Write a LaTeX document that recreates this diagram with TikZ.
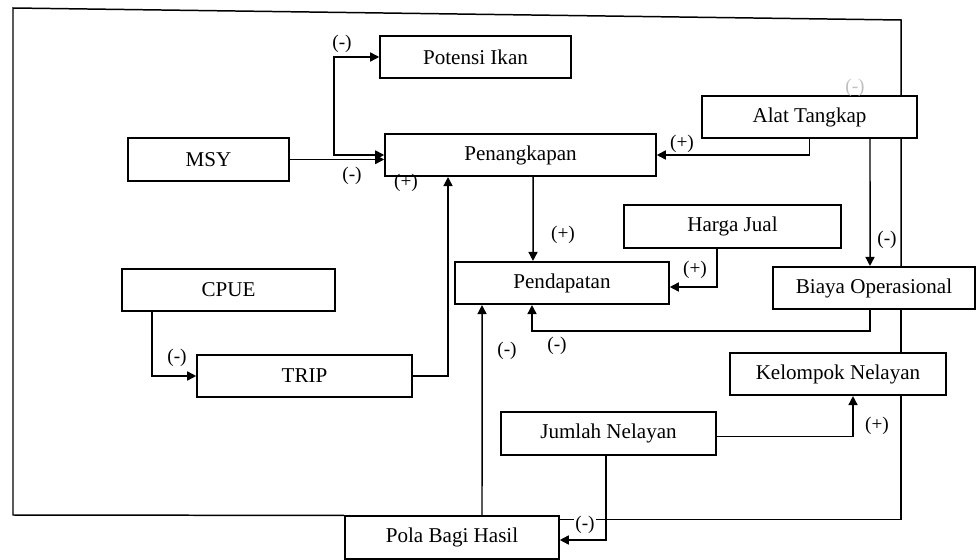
\documentclass[tikz,border=0pt]{standalone}
\usepackage{fontspec}
\setmainfont{Liberation Serif}
\usetikzlibrary{arrows.meta,backgrounds}

\begin{document}
\begin{tikzpicture}[x=0.02cm, y=-0.02cm, >={Triangle[length=1.8mm,width=1.8mm]},
  box/.style={draw, fill=white, line width=0.9pt, minimum height=0.85cm, inner sep=0pt, font=\fontsize{12}{14}\selectfont},
  link/.style={line width=0.85pt, ->},
  sign/.style={font=\fontsize{11}{13}\selectfont, inner sep=1pt}]
  \useasboundingbox (0,0) rectangle (977,560);

  \node[box, minimum width=3.82cm] (potensi) at (475.5,57) {Potensi Ikan};
  \node[box, minimum width=4.3cm] (alat) at (809.5,117) {Alat Tangkap};
  \node[box, minimum width=5.42cm] (tangkap) at (520.5,155) {Penangkapan};
  \node[box, minimum width=3.22cm] (msy) at (208.5,159.5) {MSY};
  \node[box, minimum width=4.34cm] (harga) at (732.5,226.5) {Harga Jual};
  \node[box, minimum width=4.28cm] (pendapatan) at (562,283) {Pendapatan};
  \node[box, minimum width=4.04cm] (biaya) at (874,288) {Biaya Operasional};
  \node[box, minimum width=4.26cm] (cpue) at (228.5,290) {CPUE};
  \node[box, minimum width=4.3cm] (trip) at (304.5,376) {TRIP};
  \node[box, minimum width=4.32cm] (kelompok) at (838,374) {Kelompok Nelayan};
  \node[box, minimum width=4.3cm] (jumlah) at (608.5,433.5) {Jumlah Nelayan};
  \node[box, minimum width=4.28cm] (pola) at (452,537.5) {Pola Bagi Hasil};

  \begin{scope}[on background layer]
    \draw[line width=0.85pt] (pola.north west) -- (13,515) -- (13,8) -- (901,20) -- ([xshift=0.54cm]biaya.north);
    \draw[line width=0.85pt] ([xshift=0.54cm]biaya.south) |- ([yshift=-0.08cm]pola.north east);
  \end{scope}

  \draw[link, <->] (potensi.west) -- ++(-45,0) |- (tangkap.west);
  \draw[link] (msy.east) -- (msy.east -| tangkap.west);
  \draw[link] (trip.east) -| ([xshift=-1.45cm]tangkap.south);
  \draw[link] ([xshift=-1.53cm]cpue.south) |- (trip.west);
  \draw[link] (alat.south) |- (tangkap.east);
  \draw[link] ([xshift=1.21cm]alat.south) -- ([xshift=-0.08cm]biaya.north);
  \draw[link] ([xshift=0.25cm]tangkap.south) -- ([xshift=-0.58cm]pendapatan.north);
  \draw[link] ([xshift=-0.31cm]harga.south) |- ([yshift=-0.08cm]pendapatan.east);
  \draw[link] ([xshift=-0.08cm]biaya.south) -- ++(0,21) -| ([xshift=-0.6cm]pendapatan.south);
  \draw[link] ([xshift=0.6cm]pola.north) -- ([xshift=-1.6cm]pendapatan.south);
  \draw[link] ([yshift=-0.06cm]jumlah.east) -| ([xshift=0.3cm]kelompok.south);
  \draw[link] ([xshift=-0.05cm]jumlah.south) |- ([yshift=-0.05cm]pola.east);

  \node[sign] (s1) at (342,44) {(-)};
  \node[sign] (s2) at (352,176) {(-)};
  \node[sign] (s3) at (406,183) {(+)};
  \node[sign] (s4) at (177,358) {(-)};
  \node[sign] (s5) at (682,144) {(+)};
  \node[sign, text=gray!50] (s6) at (855,88) {(-)};
  \node[sign] (s7) at (887,240) {(-)};
  \node[sign] (s8) at (563,235) {(+)};
  \node[sign] (s9) at (695,270) {(+)};
  \node[sign] (s10) at (557,346) {(-)};
  \node[sign] (s11) at (507,351) {(-)};
  \node[sign] (s12) at (877,426) {(+)};
  \node[sign, fill=white] (s13) at (585,525) {(-)};
\end{tikzpicture}
\end{document}
